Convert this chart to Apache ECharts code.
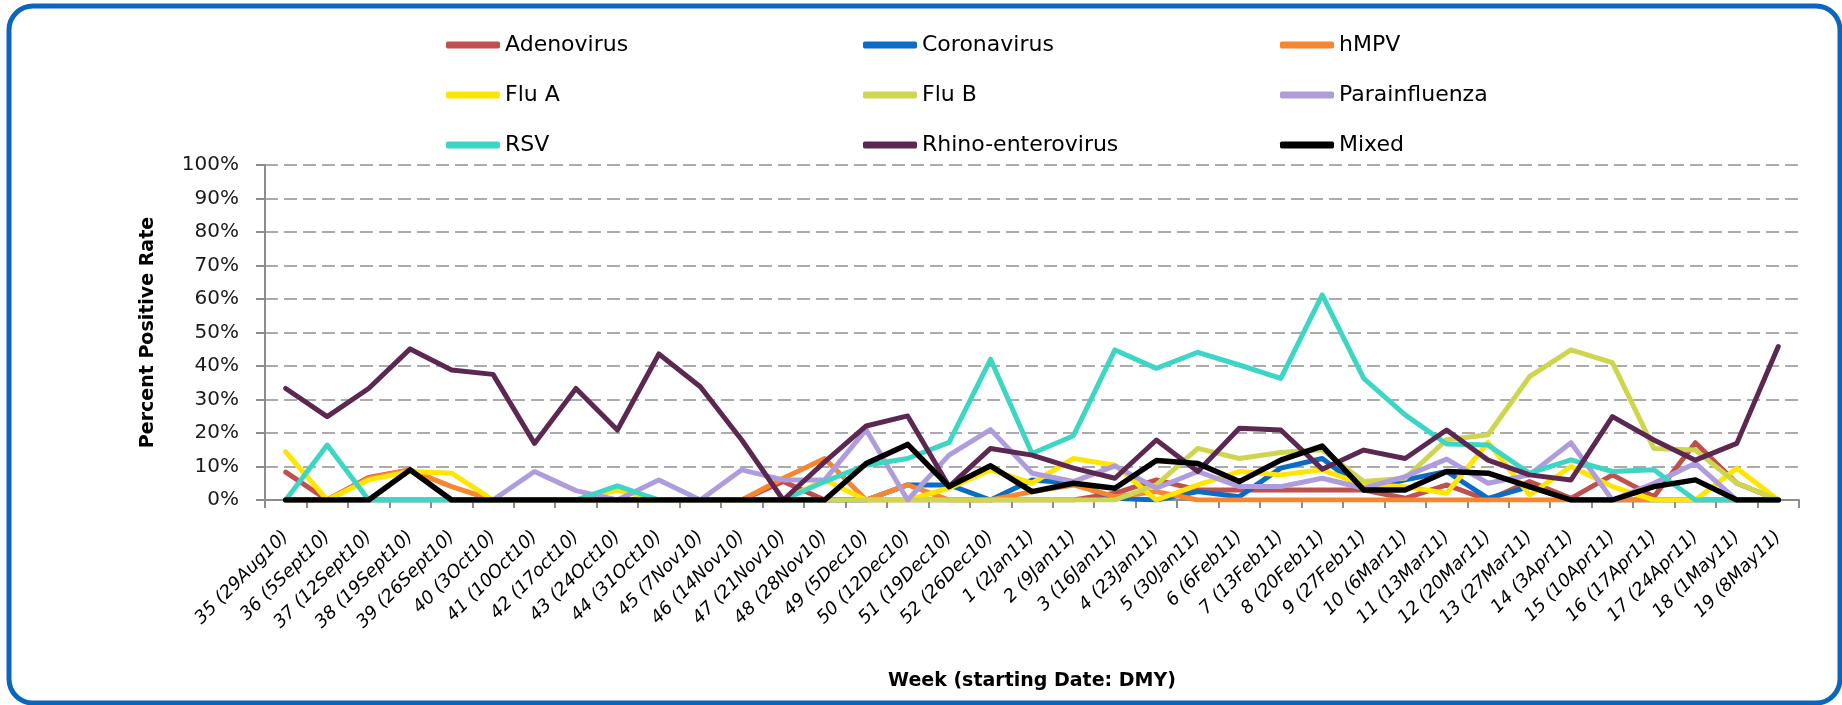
<!DOCTYPE html>
<html>
<head>
<meta charset="utf-8">
<script src="https://cdn.jsdelivr.net/npm/echarts@6/dist/echarts.min.js"></script>
<style>
  html, body { margin: 0; padding: 0; background: #fff; }
  #chart { width: 1842px; height: 705px; }
</style>
</head>
<body>
<div id="chart"></div>
<script>
// week labels (starting date: DMY)
const weeks = [
  '35 (29Aug10)', '36 (5Sept10)', '37 (12Sept10)', '38 (19Sept10)', '39 (26Sept10)',
  '40 (3Oct10)', '41 (10Oct10)', '42 (17oct10)', '43 (24Oct10)', '44 (31Oct10)',
  '45 (7Nov10)', '46 (14Nov10)', '47 (21Nov10)', '48 (28Nov10)', '49 (5Dec10)',
  '50 (12Dec10)', '51 (19Dec10)', '52 (26Dec10)', '1 (2Jan11)', '2 (9Jan11)',
  '3 (16Jan11)', '4 (23Jan11)', '5 (30Jan11)', '6 (6Feb11)', '7 (13Feb11)',
  '8 (20Feb11)', '9 (27Feb11)', '10 (6Mar11)', '11 (13Mar11)', '12 (20Mar11)',
  '13 (27Mar11)', '14 (3Apr11)', '15 (10Apr11)', '16 (17Apr11)', '17 (24Apr11)',
  '18 (1May11)', '19 (8May11)'
]

// percent positive per week
const adenovirus = [8.3, 0, 6.7, 9, 0, 0, 0, 0, 0, 0, 0, 0, 5.5, 0, 0, 0, 0, 0, 0, 0, 2, 6, 3, 3, 3, 3, 3, 0.5, 4.5, 0, 5.5, 0.5, 7.5, 1, 17.1, 5, 0]
const coronavirus = [0, 0, 0, 0, 0, 0, 0, 0, 0, 0, 0, 0, 0, 0, 0, 4.5, 4.5, 0, 6, 5, 0.5, 0, 2.5, 1, 9.5, 12.4, 3, 6, 8.5, 0.5, 4, 0, 0, 0, 0, 0, 0]
const hmpv = [0, 0, 6.5, 9, 4, 0, 0, 0, 0, 0, 0, 0, 6.5, 12.4, 0, 4.5, 0, 0, 2.5, 4.5, 1, 2.5, 0, 0, 0, 0, 0, 0, 0, 0, 0, 0, 0, 0, 0, 0, 0]
const fluA = [14.4, 0, 6, 8.5, 8, 0, 0, 0, 3, 0, 0, 0, 0, 6, 0, 0, 3.5, 9, 5, 12.4, 10.4, 0, 4.5, 8.5, 7.5, 9, 4.5, 4, 2, 17.2, 1.5, 10, 4, 0, 0, 9.5, 0]
const fluB = [0, 0, 0, 0, 0, 0, 0, 0, 0, 0, 0, 0, 0, 0, 0, 0, 0, 0, 0, 0, 0, 4.5, 15.4, 12.4, 14.2, 15, 5.5, 6.5, 18, 19.5, 36.8, 44.8, 41, 15.4, 14.9, 5, 0]
const parainfluenza = [0, 0, 0, 0, 0, 0, 8.5, 2.8, 0, 6, 0, 9, 6, 6, 21, 0, 13.4, 21, 8, 5.5, 10.2, 3.5, 8.5, 4, 4, 6.5, 3.5, 7, 12.2, 5, 7.5, 17.1, 0, 5, 11, 0, 0]
const rsv = [0, 16.4, 0, 0, 0, 0, 0, 0, 4.2, 0, 0, 0, 0, 5.5, 10.4, 12.4, 17.2, 42, 13.9, 19.2, 44.8, 39.3, 44.1, 40.3, 36.3, 61.2, 36.3, 25.4, 16.7, 16.4, 8, 12, 8.5, 9, 0, 0, 0]
const rhino = [33.3, 24.9, 33.3, 45.1, 38.8, 37.5, 16.9, 33.3, 20.9, 43.6, 33.8, 17.9, 0, 11.4, 22.1, 25.1, 4, 15.4, 13.4, 9.5, 6.5, 17.9, 8.5, 21.4, 20.9, 9.2, 14.9, 12.4, 20.9, 11.9, 7.5, 6, 24.9, 17.9, 11.9, 16.9, 45.8]
const mixed = [0, 0, 0, 9, 0, 0, 0, 0, 0, 0, 0, 0, 0, 0, 10.9, 16.6, 4, 10.2, 2.5, 5, 3.5, 11.8, 10.9, 5.5, 11.9, 16.1, 3, 3, 8.5, 8, 4, 0, 0, 4, 6, 0, 0]

const seriesList = [
  { name: 'Adenovirus', data: adenovirus, color: '#C0504D' },
  { name: 'Coronavirus', data: coronavirus, color: '#0A6CC4' },
  { name: 'hMPV', data: hmpv, color: '#F7862F' },
  { name: 'Flu A', data: fluA, color: '#FFE500' },
  { name: 'Flu B', data: fluB, color: '#CED54E' },
  { name: 'Parainfluenza', data: parainfluenza, color: '#AE9CDC' },
  { name: 'RSV', data: rsv, color: '#3DD6C4' },
  { name: 'Rhino-enterovirus', data: rhino, color: '#5C2852' },
  { name: 'Mixed', data: mixed, color: '#000000' },
]

const font = 'DejaVu Sans'

function legendCol(left, names) {
  return {
    orient: 'vertical',
    left: left,
    top: 32,
    padding: 0,
    itemGap: 24,
    itemWidth: 54,
    itemHeight: 7,
    icon: 'roundRect',
    data: names,
    textStyle: { fontFamily: font, fontSize: 22, color: '#000', lineHeight: 26 },
  }
}

const chart = echarts.init(document.getElementById('chart'))

const option = {
  animation: false,
  backgroundColor: '#fff',
  graphic: [{
    type: 'rect',
    z: 100,
    silent: true,
    shape: { x: 9, y: 6, width: 1831, height: 697, r: 24 },
    style: { fill: null, stroke: '#0A65BF', lineWidth: 5 },
  }],
  legend: [
    legendCol(446, ['Adenovirus', 'Flu A', 'RSV']),
    legendCol(863, ['Coronavirus', 'Flu B', 'Rhino-enterovirus']),
    legendCol(1280, ['hMPV', 'Parainfluenza', 'Mixed']),
  ],
  grid: { left: 265, right: 43, top: 165, bottom: 205 },
  xAxis: {
    type: 'category',
    data: weeks,
    boundaryGap: true,
    name: 'Week (starting Date: DMY)',
    nameLocation: 'middle',
    nameGap: 172,
    nameTextStyle: { fontFamily: font, fontSize: 19, fontWeight: 'bold', color: '#000' },
    axisLine: { lineStyle: { color: '#8C8C8C', width: 2 } },
    axisTick: { show: true, interval: 0, length: 8, lineStyle: { color: '#8C8C8C', width: 2 } },
    axisLabel: {
      interval: 0,
      rotate: 45,
      margin: 34,
      fontFamily: font,
      fontSize: 18,
      fontStyle: 'italic',
      color: '#000',
    },
  },
  yAxis: {
    type: 'value',
    min: 0,
    max: 100,
    interval: 10,
    name: 'Percent Positive Rate',
    nameLocation: 'middle',
    nameGap: 107,
    nameTextStyle: { fontFamily: font, fontSize: 19, fontWeight: 'bold', color: '#000' },
    axisLine: { show: true, lineStyle: { color: '#8C8C8C', width: 2 } },
    axisTick: { show: true, length: 9, lineStyle: { color: '#8C8C8C', width: 2 } },
    axisLabel: { formatter: '{value}%', margin: 26, fontFamily: font, fontSize: 20, color: '#1a1a1a' },
    splitLine: { lineStyle: { color: '#ABABAB', width: 2, type: [13, 6] } },
  },
  series: seriesList.map(s => ({
    name: s.name,
    type: 'line',
    data: s.data,
    symbol: 'none',
    color: s.color,
    lineStyle: { width: s.name === 'Mixed' ? 5.5 : 5, color: s.color, cap: 'round', join: 'round' },
  })),
}

chart.setOption(option)
</script>
</body>
</html>
